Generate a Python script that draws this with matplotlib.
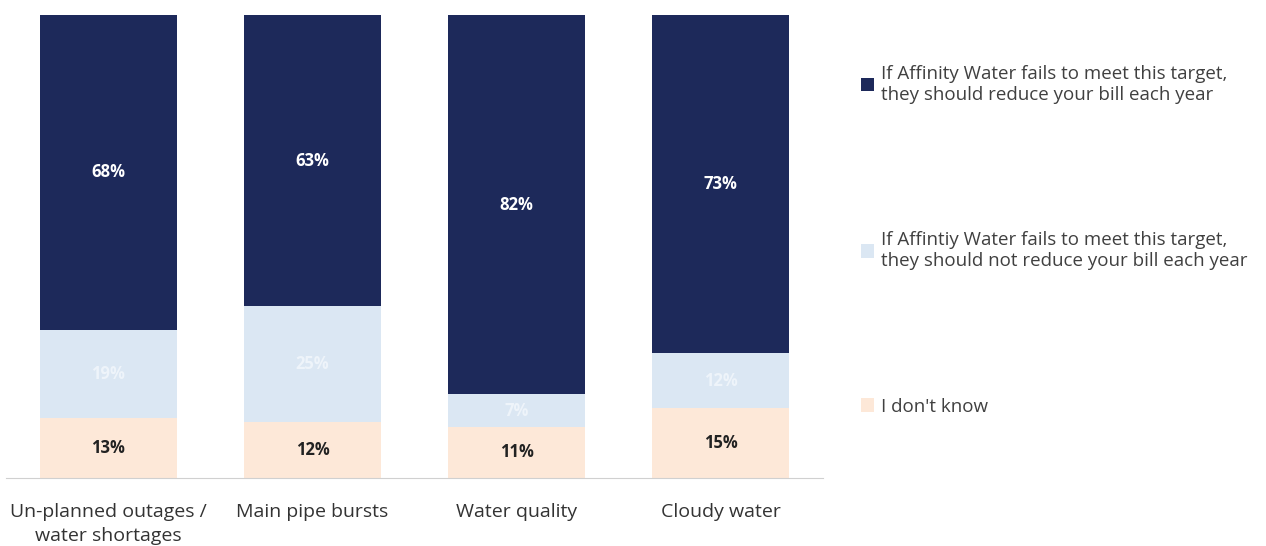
import matplotlib.pyplot as plt
import numpy as np

plt.rcParams["font.family"] = ["Open Sans", "DejaVu Sans"]

categories = ["Un-planned outages /\nwater shortages", "Main pipe bursts",
              "Water quality", "Cloudy water"]
reduce_bill = [68, 63, 82, 73]
not_reduce = [19, 25, 7, 12]
dont_know = [13, 12, 11, 15]
series_names = [
    "If Affinity Water fails to meet this target,\nthey should reduce your bill each year",
    "If Affintiy Water fails to meet this target,\nthey should not reduce your bill each year",
    "I don't know",
]

colors = ["#1d295a", "#dbe7f3", "#fde8d8"]
label_colors = ["white", "#eef4fa", "#222222"]

fig = plt.figure(figsize=(12.66, 5.46), dpi=100)
ax = fig.add_axes([0.005, 0.125, 0.645, 0.848])

x = np.arange(len(categories))
width = 0.67

# stack from the bottom: don't know, not reduce, reduce
stack = [dont_know, not_reduce, reduce_bill]
stack_colors = [colors[2], colors[1], colors[0]]
stack_text = [label_colors[2], label_colors[1], label_colors[0]]
bottom = np.zeros(len(categories))
handles = {}
for i, vals in enumerate(stack):
    vals = np.array(vals, dtype=float)
    bars = ax.bar(x, vals, width, bottom=bottom, color=stack_colors[i], edgecolor="none")
    handles[i] = bars
    for xi, b, v in zip(x, bottom, vals):
        ax.text(xi, b + v / 2, f"{v:.0f}%", ha="center", va="center",
                fontsize=12, fontweight="bold", color=stack_text[i])
    bottom += vals

ax.set_xlim(-0.5, len(categories) - 0.5)
ax.set_ylim(0, 100)
ax.set_yticks([])
ax.set_xticks(x)
ax.set_xticklabels(categories, fontsize=14, color="#333333", linespacing=1.45)
ax.tick_params(axis="x", length=0, pad=18)
for s in ["top", "left", "right"]:
    ax.spines[s].set_visible(False)
ax.spines["bottom"].set_color("#d0d0d0")

fig.legend([handles[2], handles[1], handles[0]], series_names,
           loc="upper left", bbox_to_anchor=(0.667, 0.912), frameon=False,
           fontsize=13.5, labelcolor="#404040", labelspacing=6.8,
           handlelength=0.7, handleheight=0.7, handletextpad=0.35)

fig.savefig("out.png", dpi=100)
